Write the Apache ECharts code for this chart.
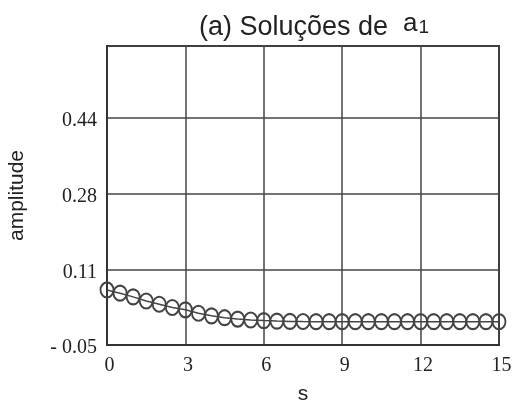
<!DOCTYPE html>
<html>
<head>
<meta charset="utf-8">
<script src="https://cdn.jsdelivr.net/npm/echarts@6/dist/echarts.min.js"></script>
<style>
html,body{margin:0;padding:0;background:#fff;}
#chart{width:513px;height:403px;}
</style>
</head>
<body>
<div id="chart"></div>
<script>
// 数据 (a) Soluções de a1
var sValues = [0,0.5,1,1.5,2,2.5,3,3.5,4,4.5,5,5.5,6,6.5,7,7.5,8,8.5,9,9.5,10,10.5,11,11.5,12,12.5,13,13.5,14,14.5,15];
var amplitude = [0.069,0.062,0.054,0.045,0.038,0.031,0.026,0.0185,0.013,0.009,0.006,0.004,0.0027,0.0016,0.001,0.0007,0.0005,0.0005,0.0005,0.0005,0.0005,0.0005,0.0005,0.0005,0.0005,0.0005,0.0005,0.0005,0.0005,0.0005,0.0005];
var yTickLabels = ['- 0.05','0.11','0.28','0.44',''];
var xTicks = [0,3,6,9,12,15];

var chart = echarts.init(document.getElementById('chart'));
var points = [];
for (var i = 0; i < sValues.length; i++) {
	points.push([sValues[i], amplitude[i]]);
}
var option = {
	animation: false,
	backgroundColor: '#fff',
	title: {
		text: '(a) Soluções de  {a|a}{sub|1}',
		left: 309,
		top: 6,
		textAlign: 'center',
		textStyle: {
			fontFamily: 'Liberation Sans',
			fontSize: 27,
			fontWeight: 'normal',
			color: '#222',
			rich: {
				a: {fontFamily: 'Liberation Sans', fontSize: 26, color: '#222', padding: [0,0,7,0]},
				sub: {fontFamily: 'Liberation Sans', fontSize: 19, color: '#222', padding: [0,0,0,1]}
			}
		}
	},
	grid: {
		left: 107, right: 14, top: 46, bottom: 58,
		outerBoundsMode: 'none',
		containLabel: false,
		show: true, borderColor: '#333', borderWidth: 2
	},
	xAxis: {
		type: 'value',
		min: 0, max: 15, interval: 3,
		name: 's',
		nameLocation: 'middle',
		nameGap: 39,
		nameTextStyle: {fontFamily: 'Liberation Sans', fontSize: 21, color: '#222'},
		axisLine: {show: true, onZero: false, lineStyle: {color: '#333', width: 2}},
		axisTick: {show: false},
		axisLabel: {
			margin: 11,
			fontFamily: 'Liberation Serif', fontSize: 20, color: '#222',
			padding: [0,0,0,5],
			formatter: function(v){ return xTicks.indexOf(v) >= 0 ? String(v) : ''; }
		},
		splitLine: {show: true, lineStyle: {color: '#444', width: 1.5}}
	},
	yAxis: {
		type: 'value',
		min: -0.05, max: 0.596, interval: 0.16333,
		name: 'amplitude',
		nameLocation: 'middle',
		nameGap: 79,
		nameTextStyle: {fontFamily: 'Liberation Sans', fontSize: 21, color: '#222'},
		axisLine: {show: true, onZero: false, lineStyle: {color: '#333', width: 2}},
		axisTick: {show: false},
		axisLabel: {
			margin: 10,
			fontFamily: 'Liberation Serif', fontSize: 20, color: '#222',
			verticalAlign: 'top',
			padding: [-7,0,0,0],
			formatter: function(v, idx){ return yTickLabels[idx] !== undefined ? yTickLabels[idx] : ''; }
		},
		splitLine: {show: true, lineStyle: {color: '#444', width: 1.5}}
	},
	series: [{
		type: 'line',
		data: points,
		symbol: 'circle',
		symbolSize: [13, 15],
		showAllSymbol: true,
		lineStyle: {color: '#444', width: 1.5},
		itemStyle: {color: 'rgba(0,0,0,0)', borderColor: '#444', borderWidth: 2}
	}]
};
chart.setOption(option);
</script>
</body>
</html>
